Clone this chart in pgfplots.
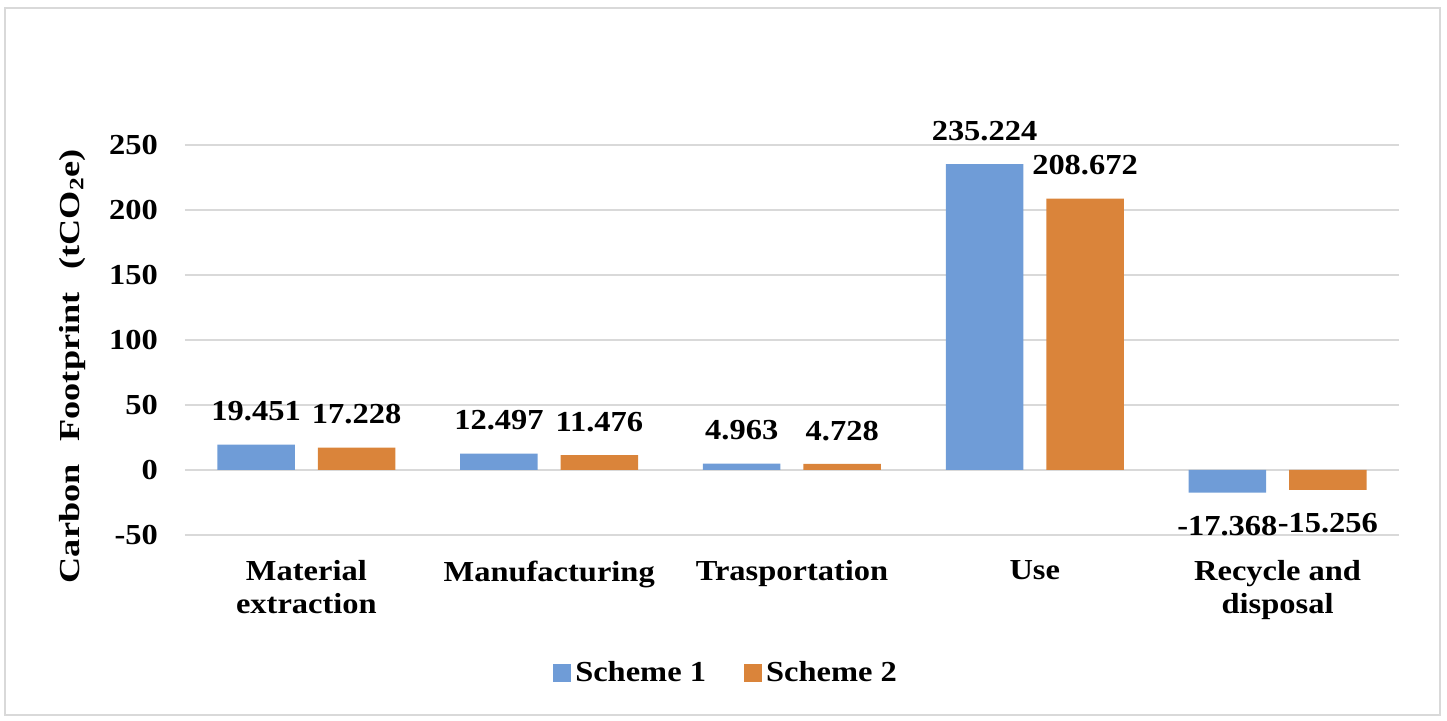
\documentclass[border=0pt]{standalone}
\usepackage{fontspec}
\setmainfont{Liberation Serif}[FakeStretch=1.12]
\newfontfamily\ylfont{Liberation Serif}[FakeStretch=1.25]
\usepackage{pgfplots}
\usepackage{pgfplotstable}
\pgfplotsset{compat=1.18}
\definecolor{sone}{HTML}{6F9CD7}
\definecolor{stwo}{HTML}{DA843A}
\definecolor{gridgray}{HTML}{D9D9D9}
\newcommand\lbl{\bfseries\fontsize{14.5}{16.5}\selectfont}
\pgfplotstableread{
x y
0 19.451
1 12.497
2 4.963
3 235.224
4 -17.368
}\schemeone
\pgfplotstableread{
x y
0 17.228
1 11.476
2 4.728
3 208.672
4 -15.256
}\schemetwo
\pgfplotsset{ybar legend/.style={legend image code/.code={\fill[##1] (0pt,-4.5pt) rectangle (9pt,4.5pt);}}}
\begin{document}
\begin{tikzpicture}
\path[use as bounding box] (-92.5pt,-93pt) rectangle (631pt,267.5pt);
\draw[gridgray, line width=1.3pt] (-90pt,-90pt) rectangle (627.5pt,263.5pt);
\begin{axis}[
  at={(0pt,0pt)}, anchor=south west,
  scale only axis, width=607pt, height=195pt,
  xmin=-0.5, xmax=4.5, ymin=-50, ymax=250,
  ytick={-50,0,50,100,150,200,250},
  xtick={0,1,2,3,4},
  xticklabels={{Material\\extraction},Manufacturing,Trasportation,Use,{Recycle and\\disposal}},
  xticklabel style={align=center, font=\lbl, yshift=-5pt},
  yticklabel style={font=\lbl, xshift=-10pt},
  /pgf/number format/assume math mode=true,
  ymajorgrids, grid style={line width=1.3pt, gridgray},
  axis line style={draw=none}, major tick style={draw=none},
  ybar=11.5pt, bar width=38.75pt,
  ylabel={Carbon\hspace{11.5pt}Footprint\hspace{11.5pt}(tCO\textsubscript{2}e)},
  ylabel style={at={(axis description cs:-0.093,0.433)}, anchor=center, font=\ylfont\lbl},
  point meta=y,
  nodes near coords={\pgfmathprintnumber[fixed,fixed zerofill,precision=3]{\pgfplotspointmeta}},
  every node near coord/.append style={font=\lbl, inner ysep=11.5pt, text=black},
  legend style={at={(0.4465,-0.354)}, anchor=center, draw=none, fill=none, font=\lbl,
    legend columns=2, /tikz/every even column/.append style={column sep=17pt},
    inner xsep=0pt},
  legend cell align=left,
]
\addplot[fill=sone, draw=none] table[x=x, y=y] {\schemeone};
\addplot[fill=stwo, draw=none] table[x=x, y=y] {\schemetwo};
\legend{Scheme 1, Scheme 2}
\end{axis}
\end{tikzpicture}
\end{document}
